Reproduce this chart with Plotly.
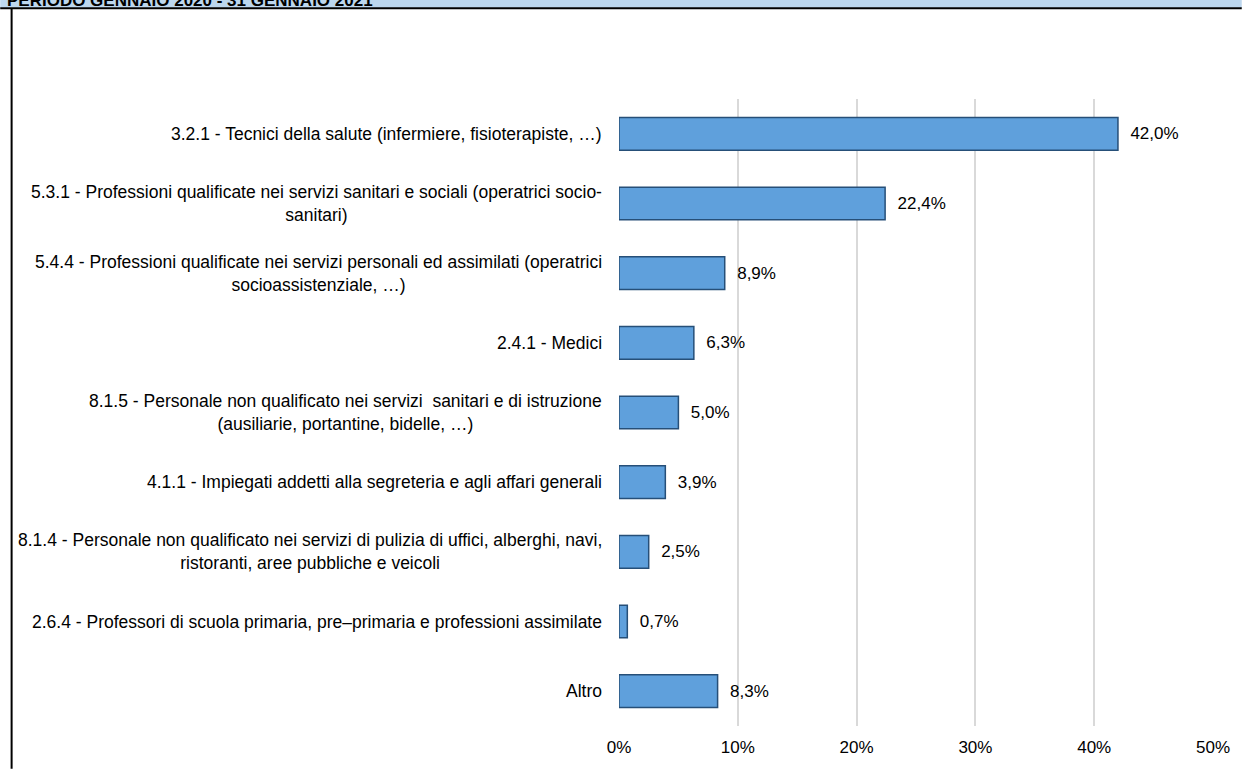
import plotly.graph_objects as go

# dati
categorie = [
    "3.2.1 - Tecnici della salute (infermiere, fisioterapiste, …)",
    "5.3.1 - Professioni qualificate nei servizi sanitari e sociali (operatrici socio-<br>sanitari)",
    "5.4.4 - Professioni qualificate nei servizi personali ed assimilati (operatrici<br>socioassistenziale, …)",
    "2.4.1 - Medici",
    "8.1.5 - Personale non qualificato nei servizi  sanitari e di istruzione<br>(ausiliarie, portantine, bidelle, …)",
    "4.1.1 - Impiegati addetti alla segreteria e agli affari generali",
    "8.1.4 - Personale non qualificato nei servizi di pulizia di uffici, alberghi, navi,<br>ristoranti, aree pubbliche e veicoli",
    "2.6.4 - Professori di scuola primaria, pre–primaria e professioni assimilate",
    "Altro",
]
percentuali = [42.0, 22.4, 8.9, 6.3, 5.0, 3.9, 2.5, 0.7, 8.3]
tick_valori = [0, 10, 20, 30, 40, 50]
tick_testi = ["0%", "10%", "20%", "30%", "40%", "50%"]
titolo = "PERIODO GENNAIO 2020 - 31 GENNAIO 2021"

FONT = "Liberation Sans, Arial, sans-serif"

# posizioni in pixel del riquadro del grafico
W, H = 1242, 769
L, R, T, B = 619, 24, 99, 38
pw, ph = W - L - R, H - T - B


def px_x(p):
    return (p - L) / pw


def px_y(p):
    return (H - B - p) / ph


fig = go.Figure()

fig.add_trace(go.Bar(
    x=percentuali,
    y=list(range(len(categorie))),
    orientation='h',
    width=0.47,
    marker=dict(color='#5FA0DC', line=dict(color='#264F78', width=1.5)),
    texttemplate='\u00a0\u00a0%{x:.1f}%',
    textposition='outside',
    textfont=dict(size=17, color='black', family=FONT),
    cliponaxis=False,
    hoverinfo='skip',
))

# etichette delle categorie, centrate su piu' righe
for i, c in enumerate(categorie):
    fig.add_annotation(
        x=0, xref='paper', xanchor='right', xshift=-15,
        y=i, yref='y', yanchor='middle',
        text=c, align='center', showarrow=False,
        font=dict(size=17.5, color='black', family=FONT),
    )

# intestazione tagliata in alto
fig.add_shape(type='rect', xref='paper', yref='paper',
              x0=px_x(-5), x1=px_x(W + 5), y0=px_y(7), y1=px_y(-5),
              fillcolor='#BDD7EE', line=dict(width=0), layer='below')
fig.add_shape(type='line', xref='paper', yref='paper',
              x0=px_x(-5), x1=px_x(W + 5), y0=px_y(7.5), y1=px_y(7.5),
              line=dict(color='black', width=2))
fig.add_shape(type='line', xref='paper', yref='paper',
              x0=px_x(6.5), x1=px_x(6.5), y0=px_y(7.5), y1=px_y(H + 5),
              line=dict(color='black', width=2))
fig.add_annotation(
    x=px_x(0), xref='paper', xanchor='left',
    y=px_y(0), yref='paper', yanchor='middle',
    text='<b>' + titolo + '</b>', showarrow=False,
    font=dict(size=17, color='black', family=FONT),
)

fig.update_layout(
    width=W, height=H,
    margin=dict(l=L, r=R, t=T, b=B),
    plot_bgcolor='white', paper_bgcolor='white',
    showlegend=False,
    separators=',.',
    xaxis=dict(
        range=[0, 50], tickmode='array', tickvals=tick_valori, ticktext=tick_testi,
        showgrid=True, gridcolor='#D9D9D9', gridwidth=1.5,
        zeroline=False, showline=False,
        tickfont=dict(size=17, color='black', family=FONT),
        ticks='outside', ticklen=6, tickcolor='white',
    ),
    yaxis=dict(
        range=[len(categorie) - 0.5, -0.5],
        showticklabels=False, showgrid=False, zeroline=False, showline=False,
    ),
)

# niente margine della pagina
fig.write_html("out.html", config={'displayModeBar': False},
               post_script="document.body.style.margin='0px';")
